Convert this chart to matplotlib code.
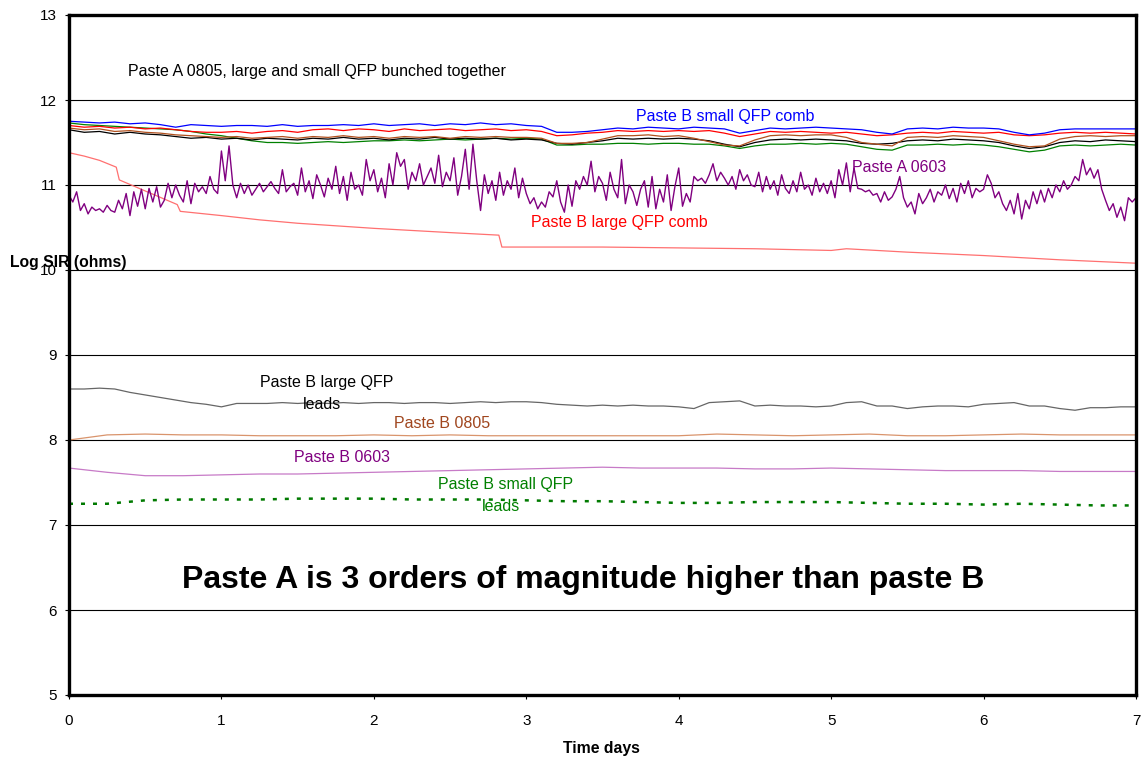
import numpy as np
import matplotlib
matplotlib.use("Agg")
import matplotlib.pyplot as plt

plt.rcParams["font.family"] = ["Liberation Sans", "DejaVu Sans"]

# ---------------------------------------------------------------- data
# Log SIR readings (log10 ohms) against time in days.

# Upper cluster, one reading every 0.1 day
days_top = np.round(np.arange(0, 7.001, 0.1), 2)
initial_reading = 5.0   # value logged at t = 0 before bias settled

paste_b_small_qfp_comb = [
    11.75, 11.74, 11.73, 11.74, 11.72, 11.73, 11.71, 11.68, 11.71, 11.70,
    11.69, 11.70, 11.70, 11.69, 11.71, 11.69, 11.70, 11.70, 11.71, 11.70,
    11.72, 11.70, 11.71, 11.72, 11.70, 11.72, 11.71, 11.73, 11.71, 11.72,
    11.70, 11.69, 11.62, 11.62, 11.63, 11.65, 11.67, 11.66, 11.68, 11.67,
    11.66, 11.68, 11.67, 11.66, 11.61, 11.64, 11.67, 11.66, 11.67, 11.68,
    11.67, 11.66, 11.65, 11.62, 11.60, 11.66, 11.67, 11.66, 11.68, 11.67,
    11.67, 11.66, 11.62, 11.59, 11.61, 11.65, 11.66, 11.66, 11.66, 11.66,
    11.66]
paste_a_red = [
    11.70, 11.68, 11.69, 11.67, 11.68, 11.66, 11.67, 11.65, 11.63, 11.62,
    11.62, 11.63, 11.61, 11.63, 11.64, 11.62, 11.65, 11.66, 11.64, 11.66,
    11.65, 11.63, 11.66, 11.64, 11.65, 11.66, 11.64, 11.65, 11.66, 11.64,
    11.65, 11.63, 11.58, 11.59, 11.61, 11.62, 11.64, 11.63, 11.64, 11.63,
    11.64, 11.63, 11.64, 11.61, 11.57, 11.60, 11.63, 11.62, 11.63, 11.62,
    11.61, 11.62, 11.60, 11.58, 11.59, 11.61, 11.62, 11.61, 11.63, 11.62,
    11.61, 11.62, 11.59, 11.58, 11.59, 11.61, 11.62, 11.61, 11.62, 11.61,
    11.60]
paste_a_brown = [
    11.67, 11.65, 11.66, 11.63, 11.64, 11.62, 11.61, 11.59, 11.58, 11.57,
    11.56, 11.57, 11.55, 11.56, 11.57, 11.55, 11.57, 11.56, 11.58, 11.56,
    11.57, 11.55, 11.57, 11.56, 11.57, 11.55, 11.57, 11.56, 11.57, 11.56,
    11.56, 11.55, 11.49, 11.49, 11.50, 11.54, 11.58, 11.58, 11.59, 11.57,
    11.58, 11.55, 11.51, 11.47, 11.46, 11.53, 11.58, 11.59, 11.58, 11.59,
    11.59, 11.56, 11.50, 11.48, 11.46, 11.56, 11.57, 11.56, 11.58, 11.57,
    11.56, 11.52, 11.48, 11.45, 11.46, 11.54, 11.57, 11.58, 11.57, 11.58,
    11.58]
paste_a_black = [
    11.65, 11.62, 11.63, 11.60, 11.62, 11.60, 11.59, 11.57, 11.55, 11.56,
    11.54, 11.55, 11.53, 11.55, 11.54, 11.53, 11.55, 11.54, 11.56, 11.54,
    11.55, 11.53, 11.55, 11.54, 11.56, 11.54, 11.55, 11.54, 11.55, 11.53,
    11.54, 11.53, 11.49, 11.48, 11.50, 11.52, 11.55, 11.54, 11.55, 11.54,
    11.55, 11.54, 11.52, 11.48, 11.45, 11.50, 11.53, 11.54, 11.53, 11.54,
    11.53, 11.52, 11.49, 11.48, 11.49, 11.52, 11.53, 11.52, 11.54, 11.53,
    11.52, 11.50, 11.46, 11.43, 11.45, 11.50, 11.52, 11.51, 11.53, 11.52,
    11.51]
paste_a_green = [
    11.73, 11.71, 11.70, 11.69, 11.68, 11.67, 11.66, 11.65, 11.63, 11.60,
    11.58, 11.55, 11.52, 11.50, 11.50, 11.49, 11.50, 11.51, 11.50, 11.51,
    11.52, 11.52, 11.53, 11.52, 11.53, 11.54, 11.53, 11.54, 11.55, 11.54,
    11.55, 11.54, 11.47, 11.47, 11.48, 11.48, 11.49, 11.49, 11.48, 11.49,
    11.49, 11.48, 11.48, 11.46, 11.43, 11.46, 11.48, 11.48, 11.49, 11.48,
    11.49, 11.48, 11.45, 11.42, 11.41, 11.47, 11.47, 11.48, 11.47, 11.48,
    11.47, 11.45, 11.42, 11.39, 11.41, 11.46, 11.47, 11.46, 11.47, 11.48,
    11.47]

# Paste A 0603, one reading every 0.025 day
days_a0603 = np.round(np.arange(0, 7.001, 0.025), 3)
paste_a_0603 = [
    10.88, 10.80, 10.92, 10.70, 10.78, 10.66, 10.74, 10.70, 10.72, 10.68,
    10.76, 10.70, 10.68, 10.82, 10.72, 10.90, 10.64, 10.92, 10.75, 10.95,
    10.72, 10.96, 10.80, 10.98, 10.74, 10.82, 11.02, 10.85, 11.00, 10.88,
    10.80, 11.05, 10.78, 11.02, 10.92, 10.98, 10.90, 11.10, 10.95, 10.90,
    11.40, 11.05, 11.46, 11.00, 10.85, 11.02, 10.90, 11.00, 10.88, 10.95,
    11.02, 10.92, 10.98, 11.04, 10.96, 10.90, 11.18, 10.92, 10.98, 11.02,
    10.88, 11.20, 10.92, 11.05, 10.84, 11.12, 11.00, 10.86, 11.08, 10.95,
    11.22, 10.90, 11.10, 10.82, 11.15, 10.95, 11.00, 10.88, 11.30, 11.05,
    11.18, 10.92, 11.08, 10.85, 11.25, 11.00, 11.38, 11.22, 11.30, 10.95,
    11.15, 11.05, 11.25, 11.00, 11.10, 11.20, 11.02, 11.35, 10.98, 11.15,
    11.05, 11.32, 10.88, 11.10, 11.42, 10.95, 11.48, 11.05, 10.70, 11.12,
    10.90, 11.05, 10.82, 11.15, 10.88, 11.05, 10.95, 11.20, 10.85, 11.08,
    10.90, 10.78, 10.85, 10.72, 10.80, 10.74, 10.92, 10.86, 11.05, 10.80,
    10.68, 11.00, 10.75, 11.05, 10.95, 11.10, 11.00, 11.28, 10.92, 11.10,
    11.02, 10.82, 11.15, 10.95, 10.85, 11.30, 10.78, 11.00, 10.92, 10.76,
    10.95, 11.05, 10.74, 11.10, 10.72, 10.95, 10.80, 11.12, 10.70, 10.98,
    11.20, 10.75, 10.90, 10.80, 11.10, 11.05, 11.08, 11.02, 11.12, 11.25,
    11.05, 11.15, 11.08, 11.00, 11.10, 10.95, 11.18, 11.05, 11.12, 11.00,
    10.98, 11.15, 10.92, 11.10, 10.95, 11.05, 10.88, 11.12, 10.96, 10.90,
    11.05, 10.92, 11.15, 10.95, 11.00, 10.88, 11.08, 10.92, 11.02, 10.90,
    11.05, 10.85, 11.18, 11.00, 11.26, 10.92, 11.20, 10.96, 10.95, 10.92,
    10.94, 10.88, 10.90, 10.80, 10.92, 10.82, 10.86, 10.95, 11.10, 10.85,
    10.74, 10.80, 10.66, 10.90, 10.78, 10.85, 10.95, 10.80, 10.92, 10.88,
    11.00, 10.84, 10.96, 10.80, 11.02, 10.90, 11.05, 10.85, 10.96, 10.92,
    10.95, 11.12, 11.02, 10.85, 10.92, 10.78, 10.70, 10.82, 10.66, 10.90,
    10.60, 10.82, 10.72, 10.92, 10.78, 10.94, 10.80, 10.96, 10.85, 11.00,
    10.92, 11.05, 10.95, 11.00, 11.10, 11.05, 11.30, 11.12, 11.20, 11.08,
    11.18, 10.95, 10.82, 10.70, 10.78, 10.62, 10.74, 10.58, 10.85, 10.80,
    10.85]

# Paste B large QFP comb, logged at irregular times
days_b_large_comb = [0.0, 0.1, 0.2, 0.31, 0.33, 0.5, 0.71, 0.73, 1.0, 1.25,
                     1.5, 2.0, 2.5, 2.82, 2.84, 3.0, 3.5, 4.0, 4.5, 5.0,
                     5.1, 5.5, 6.0, 6.5, 7.0]
paste_b_large_qfp_comb = [11.38, 11.34, 11.29, 11.21, 11.06, 10.93, 10.77,
                          10.69, 10.64, 10.59, 10.55, 10.49, 10.44, 10.41,
                          10.27, 10.27, 10.27, 10.26, 10.25, 10.23, 10.25,
                          10.21, 10.17, 10.12, 10.08]

# Paste B large QFP leads, every 0.1 day
paste_b_large_qfp_leads = [
    8.60, 8.60, 8.61, 8.60, 8.56, 8.53, 8.50, 8.47, 8.44, 8.42,
    8.39, 8.43, 8.43, 8.43, 8.44, 8.43, 8.44, 8.43, 8.44, 8.43,
    8.44, 8.44, 8.43, 8.44, 8.44, 8.43, 8.44, 8.45, 8.44, 8.45,
    8.45, 8.44, 8.42, 8.41, 8.40, 8.41, 8.40, 8.41, 8.40, 8.40,
    8.39, 8.37, 8.44, 8.45, 8.46, 8.40, 8.41, 8.40, 8.40, 8.39,
    8.40, 8.44, 8.45, 8.40, 8.40, 8.37, 8.39, 8.40, 8.40, 8.39,
    8.42, 8.43, 8.44, 8.40, 8.40, 8.37, 8.35, 8.38, 8.38, 8.39,
    8.39]

# Remaining Paste B series, every 0.25 day
days_b = np.round(np.arange(0, 7.001, 0.25), 2)
paste_b_0805 = [8.00, 8.06, 8.07, 8.06, 8.06, 8.05, 8.05, 8.05, 8.06, 8.05,
                8.06, 8.05, 8.05, 8.05, 8.05, 8.05, 8.05, 8.07, 8.06, 8.05,
                8.06, 8.07, 8.05, 8.05, 8.06, 8.07, 8.06, 8.06, 8.06]
paste_b_0603 = [7.67, 7.62, 7.58, 7.58, 7.59, 7.60, 7.60, 7.61, 7.62, 7.63,
                7.64, 7.65, 7.66, 7.67, 7.68, 7.67, 7.67, 7.67, 7.66, 7.66,
                7.67, 7.66, 7.65, 7.64, 7.64, 7.64, 7.63, 7.63, 7.63]
paste_b_small_qfp_leads = [7.25, 7.25, 7.29, 7.30, 7.30, 7.30, 7.31, 7.31,
                           7.31, 7.30, 7.30, 7.30, 7.29, 7.28, 7.28, 7.27,
                           7.26, 7.26, 7.27, 7.27, 7.27, 7.26, 7.25, 7.25,
                           7.24, 7.25, 7.24, 7.23, 7.23]

x_ticks = list(range(0, 8))
y_ticks = list(range(5, 14))

# ---------------------------------------------------------------- figure
W, H = 1146, 761
fig = plt.figure(figsize=(W / 100, H / 100), dpi=100)
ax = fig.add_axes([69 / W, 1 - 695 / H, (1136 - 69) / W, (695 - 15) / H])

ax.set_xlim(0, 7)
ax.set_ylim(5, 13)
ax.set_xticks(x_ticks)
ax.set_yticks(y_ticks)
ax.grid(axis="y", color="black", linewidth=0.8)
ax.set_axisbelow(True)
for sp in ax.spines.values():
    sp.set_linewidth(2.4)
    sp.set_color("black")
ax.tick_params(direction="out", length=3, width=0.8, labelsize=11,
               colors="black")
ax.tick_params(axis="y", pad=6)
ax.tick_params(axis="x", pad=10.5)

# lower Paste B series
ax.plot(days_top, paste_b_large_qfp_leads, color="#666666", lw=0.9)
ax.plot(days_b, paste_b_0805, color="#d9946c", lw=0.9)
ax.plot(days_b, paste_b_0603, color="#c77ac7", lw=0.9)
ax.plot(days_b, paste_b_small_qfp_leads, color="#007a00", lw=1.8,
        linestyle=(0, (1.6, 3.2)))

# comb and Paste A series
ax.plot(days_b_large_comb, paste_b_large_qfp_comb, color="#ff7070", lw=0.9)
ax.plot(days_a0603, paste_a_0603, color="#800080", lw=1.0)
ax.plot(np.r_[0, days_top], np.r_[initial_reading, paste_a_green],
        color="#008000", lw=0.9)
ax.plot(np.r_[0, days_top], np.r_[initial_reading, paste_a_black],
        color="black", lw=0.9)
ax.plot(np.r_[0, days_top], np.r_[initial_reading, paste_a_brown],
        color="#b0501e", lw=0.9)
ax.plot(np.r_[0, days_top], np.r_[initial_reading, paste_a_red],
        color="#ff0000", lw=0.9)
ax.plot(np.r_[0, days_top], np.r_[initial_reading, paste_b_small_qfp_comb],
        color="#0000ff", lw=0.9)

# annotations
fs = 11.5
ax.text(0.387, 12.34, "Paste A 0805, large and small QFP bunched together",
        fontsize=fs, color="black", ha="left", va="center")
ax.text(3.72, 11.80, "Paste B small QFP comb", fontsize=fs,
        color="#0000ff", ha="left", va="center")
ax.text(5.14, 11.21, "Paste A 0603", fontsize=fs, color="#800080",
        ha="left", va="center")
ax.text(3.03, 10.56, "Paste B large QFP comb", fontsize=fs,
        color="#ff0000", ha="left", va="center")
ax.text(1.253, 8.68, "Paste B large QFP", fontsize=fs, color="black",
        ha="left", va="center")
ax.text(1.535, 8.42, "leads", fontsize=fs, color="black",
        ha="left", va="center")
ax.text(2.13, 8.20, "Paste B 0805", fontsize=fs, color="#a0461e",
        ha="left", va="center")
ax.text(1.476, 7.79, "Paste B 0603", fontsize=fs, color="#800080",
        ha="left", va="center")
ax.text(2.42, 7.48, "Paste B small QFP", fontsize=fs, color="#008000",
        ha="left", va="center")
ax.text(2.71, 7.22, "leads", fontsize=fs, color="#008000",
        ha="left", va="center")
ax.text(3.372, 6.353, "Paste A is 3 orders of magnitude higher than paste B",
        fontsize=23, fontweight="bold", color="black",
        ha="center", va="center")

fig.text(10 / W, 1 - 262 / H, "Log SIR (ohms)", fontsize=11.3,
         fontweight="bold", ha="left", va="center")
fig.text(601 / W, 1 - 748 / H, "Time days", fontsize=11.3,
         fontweight="bold", ha="center", va="center")

fig.savefig("out.png", dpi=100)
